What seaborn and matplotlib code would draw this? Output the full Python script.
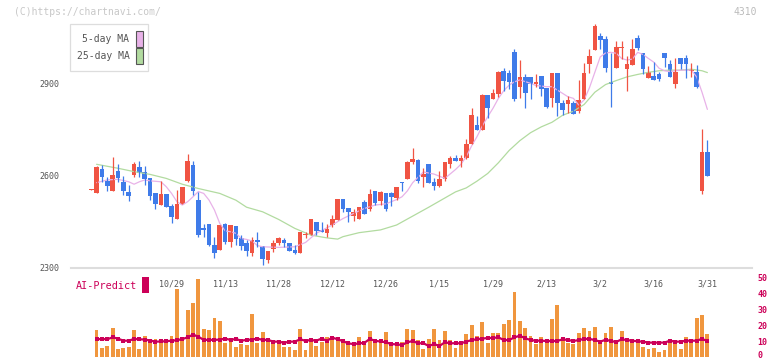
import numpy as np
import pandas as pd
import seaborn as sns
import matplotlib.pyplot as plt
import matplotlib.transforms as mtransforms
from matplotlib.patches import Rectangle

W, H = 772, 361

# ---------------------------------------------------------------------------
# data (trading day index 0..115, last day = 3/31)
date_labels = ["10/29", "11/13", "11/28", "12/12", "12/26", "1/15",
               "1/29", "2/13", "3/2", "3/16", "3/31"]
date_idx = [15, 25, 35, 45, 55, 65, 75, 85, 95, 105, 115]

opens = [2550, 2542, 2620, 2580, 2549, 2613, 2577, 2544, 2600, 2625,
         2609, 2590, 2540, 2502, 2538, 2500, 2456, 2505, 2581, 2633,
         2518, 2427, 2440, 2372, 2355, 2440, 2383, 2434, 2395, 2379,
         2347, 2388, 2368, 2323, 2358, 2377, 2388, 2379, 2355, 2347,
         2403, 2404, 2447, 2421, 2412, 2437, 2453, 2522, 2491, 2466,
         2458, 2512, 2490, 2548, 2514, 2541, 2540, 2525, 2576, 2588,
         2643, 2649, 2595, 2636, 2576, 2565, 2586, 2635, 2656, 2647,
         2656, 2700, 2763, 2747, 2861, 2848, 2864, 2939, 2932, 3002,
         2888, 2918, 2918, 2897, 2923, 2883, 2852, 2934, 2836, 2832,
         2836, 2810, 2848, 2962, 3008, 3053, 3043, 2903, 2950, 3015,
         2946, 2959, 3046, 2998, 2917, 2923, 2929, 2999, 2962, 2897,
         2983, 2983, 2940, 2937, 2549, 2676]
closes = [2553, 2627, 2594, 2565, 2600, 2591, 2549, 2533, 2636, 2608,
          2588, 2533, 2504, 2538, 2497, 2464, 2505, 2561, 2646, 2549,
          2404, 2422, 2372, 2347, 2437, 2383, 2437, 2391, 2368, 2353,
          2388, 2383, 2325, 2353, 2377, 2396, 2379, 2353, 2347, 2415,
          2408, 2456, 2418, 2415, 2424, 2456, 2522, 2489, 2480, 2479,
          2496, 2474, 2538, 2510, 2545, 2490, 2529, 2561, 2573, 2642,
          2652, 2581, 2602, 2575, 2565, 2586, 2641, 2656, 2647, 2656,
          2701, 2796, 2747, 2861, 2820, 2866, 2937, 2906, 2904, 2848,
          2918, 2868, 2897, 2904, 2880, 2823, 2934, 2836, 2812, 2845,
          2799, 2845, 2934, 2988, 3086, 3040, 2950, 2898, 3016, 3017,
          2962, 3011, 3015, 2945, 2935, 2910, 2913, 2983, 2921, 2937,
          2961, 2962, 2946, 2888, 2676, 2598]
highs = [2553, 2629, 2633, 2592, 2660, 2636, 2597, 2567, 2642, 2646,
         2629, 2590, 2540, 2580, 2538, 2504, 2551, 2561, 2668, 2646,
         2546, 2440, 2440, 2397, 2437, 2445, 2437, 2434, 2404, 2388,
         2397, 2413, 2368, 2353, 2388, 2399, 2393, 2379, 2372, 2415,
         2415, 2456, 2447, 2447, 2440, 2469, 2522, 2522, 2491, 2488,
         2496, 2518, 2556, 2548, 2548, 2541, 2544, 2561, 2576, 2646,
         2689, 2652, 2622, 2636, 2589, 2613, 2641, 2662, 2665, 2665,
         2718, 2820, 2792, 2864, 2861, 2880, 2940, 2950, 2942, 3011,
         2975, 2931, 2918, 2929, 2923, 2883, 2934, 2934, 2845, 2858,
         2842, 2910, 2966, 3010, 3092, 3062, 3053, 2997, 3037, 3037,
         2988, 3043, 3056, 2998, 2956, 2970, 2935, 2999, 2975, 2983,
         2983, 2991, 2966, 2959, 2750, 2714]
lows = [2550, 2540, 2578, 2549, 2549, 2578, 2535, 2516, 2595, 2595,
        2567, 2518, 2489, 2502, 2497, 2445, 2456, 2505, 2576, 2535,
        2399, 2397, 2368, 2330, 2355, 2375, 2366, 2372, 2355, 2336,
        2336, 2366, 2306, 2314, 2350, 2372, 2366, 2353, 2342, 2347,
        2393, 2404, 2404, 2415, 2399, 2429, 2453, 2480, 2448, 2451,
        2458, 2474, 2482, 2501, 2501, 2482, 2499, 2518, 2549, 2588,
        2636, 2573, 2562, 2575, 2551, 2562, 2582, 2624, 2647, 2627,
        2652, 2700, 2747, 2747, 2787, 2848, 2855, 2874, 2880, 2842,
        2850, 2820, 2848, 2888, 2859, 2817, 2823, 2793, 2796, 2803,
        2799, 2803, 2848, 2932, 3008, 3010, 2937, 2823, 2950, 2977,
        2875, 2959, 3008, 2929, 2917, 2910, 2906, 2953, 2921, 2885,
        2946, 2917, 2921, 2885, 2537, 2598]

ma5_idx = [1, 3, 5, 7, 8, 9, 10, 11, 13, 14, 15, 16, 17, 18, 19, 20, 21,
           22, 23, 24, 25, 26, 27, 28, 29, 30, 31, 32, 35, 38, 40, 41, 42,
           44, 45, 46, 47, 49, 51, 53, 55, 57, 58, 59, 60, 62, 64, 66, 68,
           69, 70, 71, 72, 73, 74, 75, 76, 77, 78, 79, 80, 82, 83, 85, 86,
           87, 88, 89, 90, 91, 92, 93, 94, 95, 96, 97, 98, 99, 100, 101,
           102, 103, 104, 105, 106, 107, 108, 109, 110, 111, 112, 113, 114,
           115]
ma5_val = [2575, 2584, 2586, 2578, 2570, 2578, 2584, 2581, 2578, 2562,
           2540, 2513, 2502, 2513, 2529, 2546, 2540, 2518, 2486, 2442,
           2418, 2415, 2410, 2393, 2390, 2385, 2370, 2366, 2364, 2366,
           2380, 2395, 2410, 2428, 2437, 2448, 2458, 2475, 2491, 2502,
           2506, 2520, 2529, 2548, 2575, 2610, 2603, 2589, 2618, 2635,
           2660, 2695, 2725, 2760, 2790, 2818, 2850, 2875, 2893, 2904,
           2910, 2899, 2892, 2888, 2888, 2877, 2866, 2855, 2850, 2828,
           2845, 2885, 2935, 2985, 2998, 3000, 2997, 2980, 2975, 2978,
           3000, 2993, 2980, 2968, 2948, 2940, 2937, 2940, 2942, 2942,
           2942, 2920, 2870, 2814]

ma25_idx = [1, 5, 8, 11, 14, 17, 20, 24, 27, 29, 32, 35, 38, 41, 44, 46,
            47, 50, 54, 57, 60, 63, 66, 68, 70, 72, 74, 76, 78, 80, 82,
            84, 86, 88, 90, 92, 94, 96, 98, 100, 102, 104, 106, 108, 110,
            112, 114, 115]
ma25_val = [2635, 2622, 2611, 2602, 2589, 2570, 2556, 2540, 2518, 2495,
            2480, 2455, 2426, 2404, 2395, 2391, 2399, 2412, 2421, 2437,
            2466, 2495, 2525, 2545, 2558, 2580, 2605, 2640, 2680, 2712,
            2738, 2757, 2772, 2795, 2808, 2830, 2870, 2895, 2908, 2920,
            2928, 2935, 2940, 2942, 2942, 2945, 2940, 2934]

# bottom panel, days 1..115
volume = [17.2, 6.1, 7.2, 18.4, 5.3, 5.9, 6.6, 17.2, 5.3, 13.4,
          8.9, 11.6, 10.1, 10.1, 13.4, 42.8, 10.1, 29.7, 34.3, 49.1,
          17.8, 17.2, 24.7, 22.8, 9.1, 11.9, 6.6, 8.2, 7.8, 27.2,
          9.1, 16.1, 10.3, 8.4, 8.4, 6.6, 6.6, 4.9, 17.8, 4.7,
          10.3, 6.9, 9.7, 13.0, 13.4, 12.2, 11.2, 8.2, 8.2, 13.0,
          9.5, 16.8, 8.9, 8.9, 16.1, 6.9, 7.9, 9.9, 17.8, 17.2,
          10.9, 5.3, 11.6, 17.8, 10.9, 16.8, 10.9, 6.1, 8.4, 14.5,
          20.3, 13.4, 22.2, 9.3, 15.3, 15.3, 20.9, 23.4, 40.9, 22.8,
          18.4, 13.4, 8.4, 12.8, 11.6, 24.1, 32.8, 12.2, 9.1, 8.4,
          15.3, 18.4, 16.6, 19.1, 8.6, 15.3, 19.1, 9.1, 16.6, 10.9,
          10.9, 10.9, 6.6, 5.3, 5.9, 3.4, 4.7, 10.9, 10.3, 5.3,
          12.8, 9.7, 24.7, 26.6, 14.7]
ai_predict = [11.4, 11.6, 11.4, 12.6, 11.8, 10.5, 10.5, 11.6, 11.4, 11.2,
              10.6, 9.9, 10.0, 10.2, 10.5, 10.8, 11.5, 12.6, 14.3, 13.0,
              11.0, 11.0, 11.0, 11.2, 11.8, 11.0, 11.6, 10.5, 11.0, 11.2,
              11.8, 11.0, 11.0, 9.9, 9.9, 9.2, 9.9, 9.9, 11.4, 10.4,
              11.0, 10.5, 11.8, 10.5, 12.4, 11.4, 10.2, 8.8, 8.4, 8.8,
              9.2, 11.6, 10.4, 10.0, 9.5, 8.4, 8.2, 7.8, 9.5, 10.3,
              8.9, 8.9, 7.2, 8.4, 7.2, 9.5, 8.9, 8.9, 8.9, 9.9,
              10.9, 11.4, 11.8, 12.2, 12.2, 12.6, 10.9, 10.9, 12.6, 13.6,
              12.0, 10.9, 10.5, 10.5, 10.3, 10.3, 10.3, 11.4, 10.9, 10.3,
              10.9, 11.6, 11.6, 10.9, 9.9, 11.1, 10.3, 9.7, 11.4, 10.9,
              10.5, 10.1, 9.9, 9.3, 9.3, 9.3, 9.3, 10.5, 9.9, 9.9,
              10.5, 10.5, 10.5, 11.6, 10.3]

price_ticks = [2300, 2600, 2900]
pred_ticks = [0, 10, 20, 30, 40, 50]

# ---------------------------------------------------------------------------
RED = "#f05443"
BLUE = "#3f7be9"
PINK = "#e8b2e8"
GREEN = "#b2dba0"
ORANGE = "#f0963e"
CRIMSON = "#cc0058"
AXIS = "#dddddd"

sns.set_style("white")
plt.rcParams['font.family'] = ['DejaVu Sans Mono', 'DejaVu Sans']


def fx(px):
    return px / W


def fy(py):
    return 1 - py / H


candles = pd.DataFrame({"open": opens, "close": closes,
                        "high": highs, "low": lows})
candles["day"] = np.arange(len(candles))
candles["up"] = candles["close"] >= candles["open"]
candles["color"] = np.where(candles["up"], RED, BLUE)
candles["bottom"] = candles[["open", "close"]].min(axis=1)
candles["height"] = (candles["close"] - candles["open"]).abs().clip(lower=3)

bottom_df = pd.DataFrame({"day": np.arange(1, len(volume) + 1),
                          "volume": volume, "ai": ai_predict})

fig = plt.figure(figsize=(W / 100, H / 100), dpi=100)

# x mapping: day 0 at 91.2px, 5.358px per day, axes from 71 to 752px
x0 = (71 - 91.2) / 5.358
x1 = (752 - 91.2) / 5.358

ax = fig.add_axes([fx(71), fy(268.3), fx(752) - fx(71), fy(20) - fy(268.3)])
ax.set_facecolor("none")

sns.lineplot(x=ma25_idx, y=ma25_val, ax=ax, color=GREEN, lw=0.9,
             sort=False)
sns.lineplot(x=ma5_idx, y=ma5_val, ax=ax, color=PINK, lw=0.9, sort=False)

ax.vlines(candles["day"], candles["low"], candles["high"],
          colors=candles["color"], lw=0.9)
ax.bar(candles["day"], candles["height"], bottom=candles["bottom"],
       width=0.86, color=candles["color"], linewidth=0)

ax.set_xlim(x0, x1)
ax.set_ylim(2295.8, 3105.5)
ax.set_yticks(price_ticks)
ax.set_yticklabels([str(t) for t in price_ticks])
ax.tick_params(axis="y", length=0, pad=8.5, labelsize=6,
               labelcolor="#555555")
ax.set_xticks(np.linspace(x0, x1, 12))
ax.set_xticklabels([])
ax.set_xticks(date_idx, labels=date_labels, minor=True)
ax.tick_params(axis="x", which="major", direction="in", length=3,
               width=1.2, color=AXIS)
ax.tick_params(axis="x", which="minor", length=0, pad=8,
               labelsize=6, labelcolor="#555555")
for side in ["top", "right", "left"]:
    ax.spines[side].set_visible(False)
ax.spines["bottom"].set_color(AXIS)
ax.spines["bottom"].set_linewidth(1.5)
ax.set_xlabel("")
ax.set_ylabel("")

# bottom panel
ax2 = fig.add_axes([fx(71), fy(361), fx(752) - fx(71), fy(275) - fy(361)])
ax2.set_facecolor("none")
sns.barplot(data=bottom_df, x="day", y="volume", ax=ax2, native_scale=True,
            orient="x", color=ORANGE, saturation=1, width=0.72,
            linewidth=0)
sns.lineplot(data=bottom_df, x="day", y="ai", ax=ax2, color=CRIMSON,
             lw=1.6, marker="s", markersize=2.4, markeredgewidth=0)
ax2.set_xlim(x0, x1)
ax2.set_ylim(-2.19, 51.56)
ax2.set_yticks(pred_ticks)
ax2.yaxis.tick_right()
ax2.tick_params(axis="y", length=0, pad=4, labelsize=6,
                labelcolor=CRIMSON)
nudge = mtransforms.ScaledTranslation(0, 2.5 / 72, fig.dpi_scale_trans)
for lbl in ax2.get_yticklabels():
    lbl.set_fontweight("bold")
    if lbl.get_text() == "0":
        lbl.set_transform(lbl.get_transform() + nudge)
ax2.set_xticks([])
ax2.set_xlabel("")
ax2.set_ylabel("")
for side in ["top", "right", "left", "bottom"]:
    ax2.spines[side].set_visible(False)

# header texts
fig.text(fx(14), fy(12), "(C)https://chartnavi.com/", fontsize=7,
         color="#c8c8c8", va="center", ha="left")
fig.text(fx(757), fy(12), "4310", fontsize=7, color="#bbbbbb",
         va="center", ha="right")

# legend box
fig.patches.append(Rectangle((fx(70.3), fy(71)), fx(148.3) - fx(70.3),
                             fy(24) - fy(71), transform=fig.transFigure,
                             facecolor="white", edgecolor=AXIS, lw=0.9))
for label, color, yc in [("5-day MA", PINK, 39), ("25-day MA", GREEN, 56)]:
    fig.text(fx(129.5), fy(yc), label, fontsize=7, color="#555555",
             ha="right", va="center")
    fig.patches.append(Rectangle((fx(136.3), fy(yc + 7.5)),
                                 fx(142.5) - fx(136.3), fy(yc - 7.5) - fy(yc + 7.5),
                                 transform=fig.transFigure, facecolor=color,
                                 edgecolor="#555555", lw=0.8))

# AI-Predict label
fig.text(fx(76), fy(286), "AI-Predict", fontsize=7.3, color=CRIMSON,
         ha="left", va="center")
fig.patches.append(Rectangle((fx(142.3), fy(292.7)), fx(148.7) - fx(142.3),
                             fy(276.7) - fy(292.7), transform=fig.transFigure,
                             facecolor=CRIMSON, edgecolor="none"))

fig.savefig("out.png", dpi=100)
